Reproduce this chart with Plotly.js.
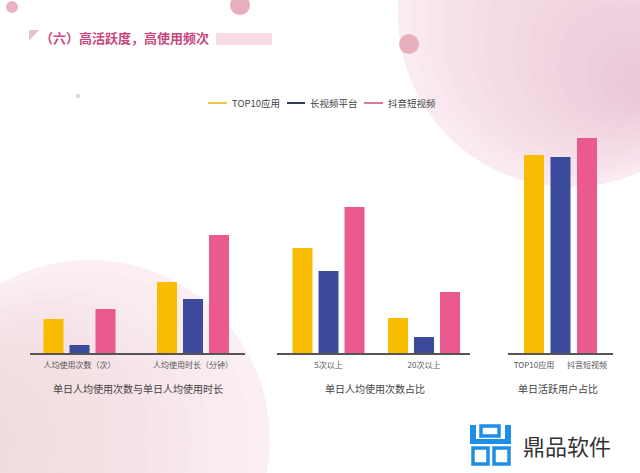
<!DOCTYPE html>
<html>
<head>
<meta charset="utf-8">
<script src="https://cdn.plot.ly/plotly-3.0.1.min.js"></script>
<style>
  html, body { margin: 0; padding: 0; background: #fff; }
  #chart { width: 640px; height: 473px; }
</style>
</head>
<body>
<div id="chart"></div>
<script>
// ---- data (bar heights in px-ish units) ----
const seriesNames = ['TOP10应用', '长视频平台', '抖音短视频'];
const seriesColors = ['#F8BD00', '#3B4A9A', '#EA5A8E'];

const usageCats = ['人均使用次数（次）', '人均使用时长（分钟）'];
const usageTop10 = [34, 71];
const usageLong = [8, 54];
const usageDouyin = [44, 118];

const freqCats = ['5次以上', '20次以上'];
const freqTop10 = [105, 35];
const freqLong = [82, 16];
const freqDouyin = [146, 61];

const dauCats = ['TOP10应用', '长视频平台', '抖音短视频'];
const dauTicks = ['TOP10应用', '', '抖音短视频'];
const dauValues = [198, 196, 215];

const panelTitles = ['单日人均使用次数与单日人均使用时长', '单日人均使用次数占比', '单日活跃用户占比'];

// ---- helpers: pixel -> paper ----
const W = 640, H = 473;
const px = x => x / W;
const py = y => 1 - y / H;
const FONT = '"Noto Sans CJK SC", "Noto Sans", sans-serif';

// bars of a grouped panel; offsets/width given in px, converted with category spacing
function groupTraces(xa, ya, cats, vals, unit) {
  const offs = [-36, -10, 16];
  return vals.map((v, i) => ({
    type: 'bar', x: cats, y: v, xaxis: xa, yaxis: ya,
    width: 20 / unit, offset: offs[i] / unit,
    marker: { color: seriesColors[i] },
    showlegend: false, hoverinfo: 'skip'
  }));
}

const traces = [
  ...groupTraces('x', 'y', usageCats, [usageTop10, usageLong, usageDouyin], 113.5),
  ...groupTraces('x2', 'y2', freqCats, [freqTop10, freqLong, freqDouyin], 95.5),
  ...dauValues.map((v, i) => ({
    type: 'bar', x: [dauCats[i]], y: [v], xaxis: 'x3', yaxis: 'y3',
    width: 20 / 26.5, marker: { color: seriesColors[i] },
    showlegend: false, hoverinfo: 'skip'
  }))
];

function xax(l, r, c0, unit, extra) {
  return Object.assign({
    domain: [px(l), px(r)], type: 'category',
    range: [(l - c0) / unit, (r - c0) / unit],
    showline: true, linecolor: '#555', linewidth: 1.5,
    showgrid: false, zeroline: false,
    ticks: 'outside', ticklen: 4, tickcolor: 'rgba(0,0,0,0)',
    tickfont: { family: FONT, size: 8, color: '#555' },
    fixedrange: true
  }, extra || {});
}
function yax(anchor) {
  return {
    domain: [py(353), py(130)], range: [0, 223], anchor: anchor,
    visible: false, showgrid: false, zeroline: false, fixedrange: true
  };
}

function circ(cx, cy, r, color) {
  return { type: 'circle', xref: 'paper', yref: 'paper', layer: 'below',
    x0: px(cx - r), x1: px(cx + r), y0: py(cy + r), y1: py(cy - r),
    fillcolor: color, line: { width: 0 } };
}

// soft blobs: many very faint circles, each tangent to the darker side
const steps = [...Array(16).keys()];
const blobTR = [circ(570, 15, 172, 'rgba(248,226,237,0.6)'),
  ...steps.map(k => circ(570 + k * 4.5, 15 + k * 4.5, 172 - k * 10, 'rgba(235,178,206,0.035)'))];
const blobBL = [circ(90, 440, 180, 'rgba(250,232,240,0.6)'),
  ...steps.map(k => circ(90 - k * 10, 440, 180 - k * 10, 'rgba(238,188,210,0.035)'))];

const shapes = [
  ...blobTR,
  ...blobBL,
  // small dots
  circ(12, 7, 6, '#eab3c3'),
  circ(240, 5, 10, '#e8aebd'),
  circ(409, 44, 10, '#e8aebb'),
  circ(78, 96, 2, '#cfcfd4'),
  // title decorations
  { type: 'path', xref: 'paper', yref: 'paper', layer: 'below',
    path: `M ${px(29)} ${py(30)} L ${px(39)} ${py(30)} L ${px(29)} ${py(41)} Z`,
    fillcolor: '#e2c3cc', line: { width: 0 } },
  { type: 'rect', xref: 'paper', yref: 'paper', layer: 'below',
    x0: px(216), x1: px(272), y0: py(33), y1: py(45),
    fillcolor: 'rgba(244,210,222,0.8)', line: { width: 0 } },
  // legend lines
  ...seriesColors.map((c, i) => ({
    type: 'line', xref: 'paper', yref: 'paper',
    x0: px([208, 287, 364][i]), x1: px([227, 305, 383][i]), y0: py(103), y1: py(103),
    line: { color: ['#e8c84a', '#33395e', '#d9789a'][i], width: 2 }
  })),
  // logo box
  { type: 'rect', xref: 'paper', yref: 'paper', layer: 'below',
    x0: px(455), x1: px(640), y0: py(415), y1: py(473),
    fillcolor: 'rgba(255,255,255,0.9)', line: { width: 0 } },
  // logo icon
  ...[[470, 425, 476, 444], [505, 425, 511, 444], [470, 439, 511, 444]].map(r => ({
    type: 'rect', xref: 'paper', yref: 'paper',
    x0: px(r[0]), y0: py(r[1]), x1: px(r[2]), y1: py(r[3]),
    fillcolor: '#1f8fe6', line: { width: 0 }
  })),
  ...[[481, 426, 499, 436], [473, 448, 488, 464], [494, 448, 509, 464]].map(r => ({
    type: 'rect', xref: 'paper', yref: 'paper',
    x0: px(r[0]), y0: py(r[1]), x1: px(r[2]), y1: py(r[3]),
    fillcolor: 'rgba(0,0,0,0)', line: { color: '#1f8fe6', width: 3.5 }
  }))
];

const annotations = [
  { text: '<b>（六）高活跃度，高使用频次</b>', x: px(38), y: py(37), xanchor: 'left', yanchor: 'middle',
    font: { family: FONT, size: 13, color: '#c9467e' } },
  ...seriesNames.map((n, i) => ({
    text: n, x: px([230, 308, 386][i]), y: py(103), xanchor: 'left', yanchor: 'middle',
    font: { family: FONT, size: 9.5, color: '#444' }
  })),
  ...panelTitles.map((t, i) => ({
    text: t, x: px([138, 375, 558][i]), y: py(388), xanchor: 'center', yanchor: 'middle',
    font: { family: FONT, size: 10, color: '#444' }
  })),
  { text: '鼎品软件', x: px(521), y: py(445), xanchor: 'left', yanchor: 'middle',
    font: { family: FONT, size: 22, color: '#333' } }
].map(a => Object.assign({ xref: 'paper', yref: 'paper', showarrow: false }, a));

const layout = {
  width: W, height: H,
  margin: { l: 0, r: 0, t: 0, b: 0 },
  paper_bgcolor: '#fff', plot_bgcolor: 'rgba(0,0,0,0)',
  barmode: 'overlay', showlegend: false,
  font: { family: FONT },
  xaxis: xax(30, 245, 79.5, 113.5),
  yaxis: yax('x'),
  xaxis2: xax(277, 470, 328.5, 95.5, { anchor: 'y2' }),
  yaxis2: yax('x2'),
  xaxis3: xax(508, 613, 534, 26.5, { anchor: 'y3', tickvals: dauCats, ticktext: dauTicks }),
  yaxis3: yax('x3'),
  shapes: shapes,
  annotations: annotations
};

Plotly.newPlot('chart', traces, layout, { displayModeBar: false, staticPlot: true });
</script>
</body>
</html>
